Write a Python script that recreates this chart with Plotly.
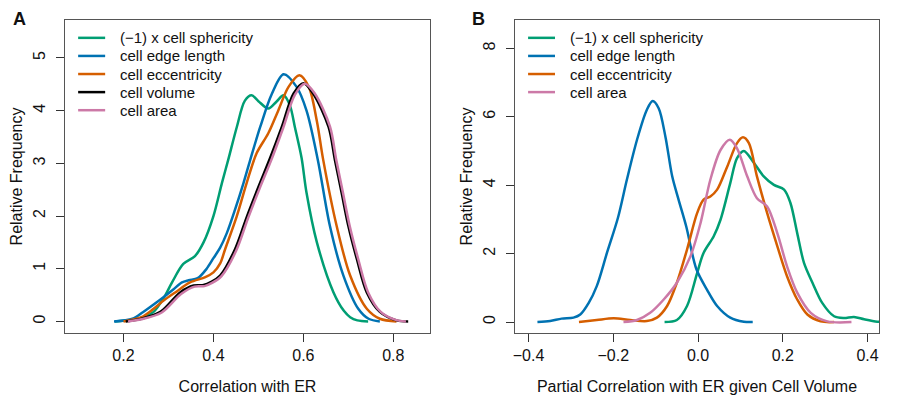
import plotly.graph_objects as go

# panel A: density of correlation with ER
a_sph_x = [0.181, 0.22, 0.25, 0.267, 0.29, 0.308, 0.333, 0.359, 0.378, 0.40, 0.419, 0.433, 0.452, 0.470,
           0.485, 0.50, 0.522, 0.540, 0.556, 0.570, 0.581, 0.596, 0.607, 0.630, 0.667, 0.69, 0.704, 0.72, 0.744]
a_sph_y = [0, 0.03, 0.10, 0.18, 0.45, 0.74, 1.09, 1.24, 1.50, 2.0, 2.63, 3.07, 3.69, 4.19,
           4.29, 4.18, 4.04, 4.17, 4.29, 4.10, 3.69, 3.10, 2.44, 1.50, 0.55, 0.2, 0.08, 0.02, 0]

a_edge_x = [0.179, 0.22, 0.244, 0.28, 0.310, 0.330, 0.345, 0.365, 0.385, 0.40, 0.415, 0.430, 0.448, 0.467,
            0.482, 0.504, 0.530, 0.556, 0.585, 0.607, 0.632, 0.659, 0.689, 0.722, 0.745, 0.77]
a_edge_y = [0, 0.05, 0.18, 0.40, 0.60, 0.74, 0.78, 0.82, 1.0, 1.2, 1.40, 1.68, 2.12, 2.63,
            3.07, 3.69, 4.32, 4.69, 4.45, 4.0, 3.07, 1.81, 0.87, 0.24, 0.05, 0]

a_ecc_x = [0.20, 0.24, 0.267, 0.290, 0.315, 0.348, 0.382, 0.40, 0.415, 0.426, 0.452, 0.474, 0.496, 0.522,
           0.544, 0.567, 0.591, 0.612, 0.630, 0.644, 0.674, 0.704, 0.741, 0.77, 0.807]
a_ecc_y = [0, 0.08, 0.24, 0.40, 0.55, 0.74, 0.84, 0.93, 1.10, 1.37, 2.0, 2.63, 3.19, 3.57,
           4.0, 4.45, 4.67, 4.45, 3.8, 3.07, 1.81, 0.87, 0.24, 0.05, 0]

a_vol_x = [0.205, 0.24, 0.282, 0.326, 0.356, 0.378, 0.395, 0.415, 0.448, 0.474, 0.500, 0.526, 0.552,
           0.578, 0.60, 0.622, 0.656, 0.670, 0.685, 0.700, 0.719, 0.741, 0.770, 0.807, 0.833]
a_vol_y = [0, 0.05, 0.18, 0.55, 0.68, 0.69, 0.75, 0.87, 1.37, 1.98, 2.55, 3.10, 3.69,
           4.32, 4.52, 4.32, 3.69, 3.07, 2.44, 1.81, 1.18, 0.55, 0.18, 0.02, 0]

a_area_x = [0.21, 0.24, 0.285, 0.328, 0.358, 0.380, 0.397, 0.418, 0.451, 0.477, 0.503, 0.529, 0.555,
            0.581, 0.603, 0.625, 0.659, 0.673, 0.688, 0.703, 0.722, 0.744, 0.772, 0.805, 0.828]
a_area_y = [0, 0.04, 0.17, 0.52, 0.66, 0.67, 0.73, 0.86, 1.35, 1.96, 2.53, 3.07, 3.67,
            4.30, 4.51, 4.33, 3.70, 3.07, 2.44, 1.81, 1.18, 0.55, 0.18, 0.03, 0]

# panel B: partial correlation given cell volume
b_sph_x = [-0.079, -0.050, -0.026, -0.002, 0.013, 0.037, 0.053, 0.076, 0.092, 0.108, 0.132, 0.155, 0.179,
           0.203, 0.218, 0.234, 0.250, 0.270, 0.293, 0.321, 0.344, 0.368, 0.392, 0.423, 0.45]
b_sph_y = [0, 0.06, 0.47, 1.44, 2.02, 2.51, 2.99, 4.06, 4.79, 5.00, 4.65, 4.26, 4.01,
           3.87, 3.48, 2.60, 1.73, 1.15, 0.56, 0.17, 0.12, 0.15, 0.08, 0.01, 0]

b_edge_x = [-0.379, -0.349, -0.322, -0.294, -0.278, -0.258, -0.239, -0.215, -0.189, -0.168, -0.144, -0.121,
            -0.107, -0.093, -0.077, -0.061, -0.046, -0.028, -0.004, 0.021, 0.045, 0.076, 0.108, 0.129]
b_edge_y = [0, 0.03, 0.10, 0.13, 0.22, 0.56, 1.05, 2.02, 3.05, 4.16, 5.33, 6.20,
            6.46, 6.25, 5.42, 4.26, 3.58, 2.80, 1.55, 0.95, 0.47, 0.13, 0.01, 0]

b_ecc_x = [-0.281, -0.239, -0.199, -0.160, -0.121, -0.097, -0.073, -0.050, -0.026, -0.002, 0.013, 0.029,
           0.045, 0.069, 0.092, 0.106, 0.120, 0.139, 0.163, 0.187, 0.210, 0.234, 0.258, 0.289, 0.321]
b_ecc_y = [0, 0.06, 0.11, 0.06, 0.03, 0.13, 0.47, 1.15, 2.12, 3.19, 3.58, 3.67,
           3.87, 4.55, 5.23, 5.40, 5.23, 4.26, 3.19, 2.22, 1.34, 0.66, 0.22, 0.02, 0]

b_area_x = [-0.176, -0.144, -0.113, -0.081, -0.050, -0.018, 0.006, 0.029, 0.053, 0.075, 0.092, 0.116,
            0.139, 0.163, 0.187, 0.210, 0.234, 0.266, 0.305, 0.362]
b_area_y = [0, 0.06, 0.27, 0.66, 1.15, 1.92, 2.90, 4.16, 5.03, 5.33, 5.08, 4.26,
            3.62, 3.38, 2.60, 1.63, 0.86, 0.27, 0.02, 0]

labels_a = ['(\u22121) x cell sphericity', 'cell edge length', 'cell eccentricity', 'cell volume', 'cell area']
labels_b = ['(\u22121) x cell sphericity', 'cell edge length', 'cell eccentricity', 'cell area']
colors_a = ['#009E73', '#0072B2', '#D55E00', '#000000', '#CC79A7']
colors_b = ['#009E73', '#0072B2', '#D55E00', '#CC79A7']

xticks_a = [0.2, 0.4, 0.6, 0.8]
xtext_a = ['0.2', '0.4', '0.6', '0.8']
yticks_a = [0, 1, 2, 3, 4, 5]
xticks_b = [-0.4, -0.2, 0.0, 0.2, 0.4]
xtext_b = ['\u22120.4', '\u22120.2', '0.0', '0.2', '0.4']
yticks_b = [0, 2, 4, 6, 8]

curves_a = [(a_sph_x, a_sph_y), (a_edge_x, a_edge_y), (a_ecc_x, a_ecc_y), (a_vol_x, a_vol_y), (a_area_x, a_area_y)]
curves_b = [(b_sph_x, b_sph_y), (b_edge_x, b_edge_y), (b_ecc_x, b_ecc_y), (b_area_x, b_area_y)]

FONT = 'Liberation Sans, Arial, sans-serif'

fig = go.Figure()
for (xs, ys), c, name in zip(curves_a, colors_a, labels_a):
    fig.add_trace(go.Scatter(x=xs, y=ys, mode='lines', name=name, showlegend=False,
                             line=dict(color=c, width=2.5, shape='spline', smoothing=0.9),
                             xaxis='x', yaxis='y'))
for (xs, ys), c, name in zip(curves_b, colors_b, labels_b):
    fig.add_trace(go.Scatter(x=xs, y=ys, mode='lines', name=name, showlegend=False,
                             line=dict(color=c, width=2.5, shape='spline', smoothing=0.9),
                             xaxis='x2', yaxis='y2'))

# hand drawn legends, R style
for xref, yref, labels, colors in [('x domain', 'y domain', labels_a, colors_a),
                                   ('x2 domain', 'y2 domain', labels_b, colors_b)]:
    for i, (lab, c) in enumerate(zip(labels, colors)):
        yy = 0.943 - i * 0.0578
        fig.add_shape(type='line', xref=xref, yref=yref, x0=0.036, x1=0.11, y0=yy, y1=yy,
                      line=dict(color=c, width=2.5))
        fig.add_annotation(xref=xref, yref=yref, x=0.146, y=yy, text=lab, showarrow=False,
                           xanchor='left', yanchor='middle', font=dict(size=15, color='#111'))

axis_common = dict(showline=True, linecolor='#555', linewidth=1.3, mirror=True, showgrid=False,
                   zeroline=False, ticks='outside', ticklen=8, tickcolor='#333', tickwidth=1.2,
                   tickfont=dict(size=16, color='#111'), automargin=False)

# page body adds ~8px offset, margins compensate for it
fig.update_layout(
    width=900, height=400,
    margin=dict(l=57, r=29, t=12, b=75),
    plot_bgcolor='white', paper_bgcolor='white',
    font=dict(family=FONT, color='#111'),
    xaxis=dict(domain=[0, 0.4484], range=[0.07, 0.8815], tickvals=xticks_a, ticktext=xtext_a,
               title=dict(text='Correlation with ER', font=dict(size=16), standoff=17), **axis_common),
    yaxis=dict(range=[-0.22, 5.72], tickvals=yticks_a, tickangle=-90, ticklabelstandoff=4,
               title=dict(text='Relative Frequency', font=dict(size=16), standoff=4), **axis_common),
    xaxis2=dict(domain=[0.5528, 1], range=[-0.432, 0.427], tickvals=xticks_b, ticktext=xtext_b,
                title=dict(text='Partial Correlation with ER given Cell Volume', font=dict(size=16), standoff=17),
                anchor='y2', **axis_common),
    yaxis2=dict(range=[-0.32, 8.83], tickvals=yticks_b, tickangle=-90, ticklabelstandoff=4, anchor='x2',
                title=dict(text='Relative Frequency', font=dict(size=16), standoff=4), **axis_common),
)

fig.add_annotation(xref='paper', yref='paper', x=-0.0553, y=1.0035, text='<b>A</b>', showarrow=False,
                   xanchor='center', yanchor='middle', font=dict(size=18, color='#111'))
fig.add_annotation(xref='paper', yref='paper', x=0.5074, y=1.0035, text='<b>B</b>', showarrow=False,
                   xanchor='center', yanchor='middle', font=dict(size=18, color='#111'))

fig.write_html('out.html')
